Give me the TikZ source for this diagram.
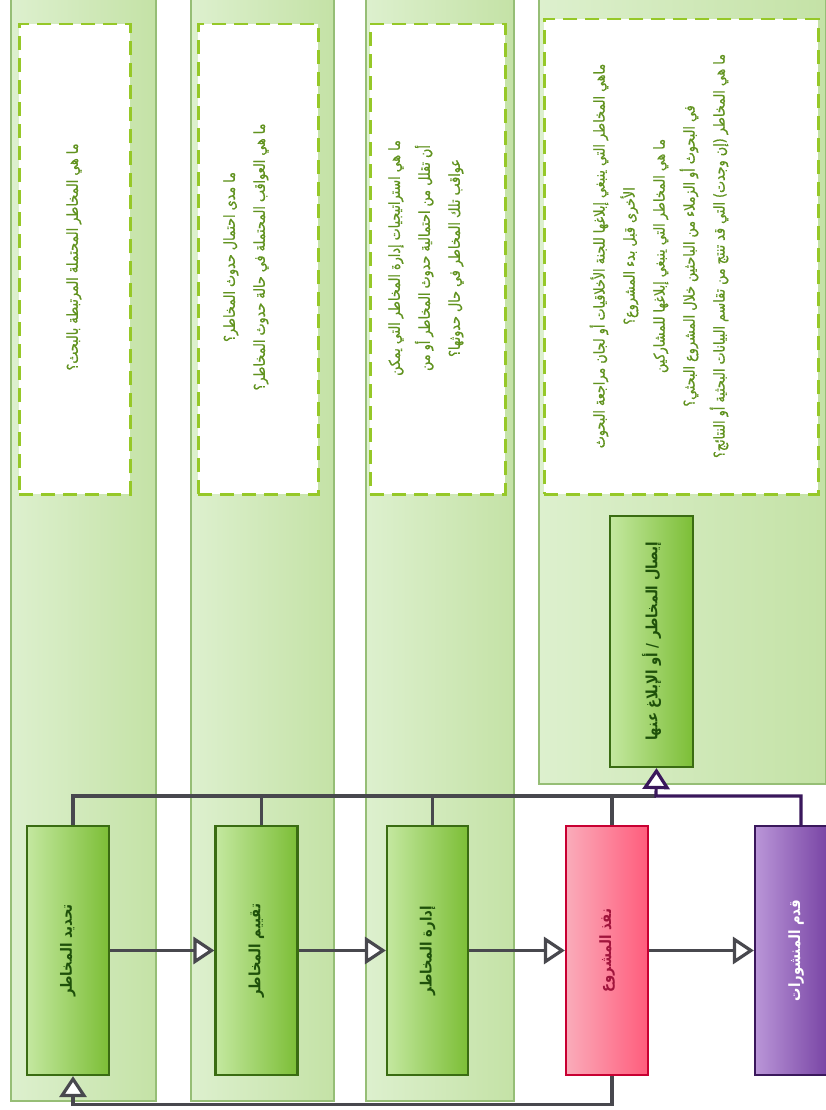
\documentclass[tikz,border=0pt]{standalone}
\usepackage{fontspec}
\newfontfamily\arabicfont[Script=Arabic, FakeStretch=0.85]{DejaVu Sans}
\newfontfamily\notefont[Script=Arabic, FakeStretch=0.85, FakeBold=0.8]{DejaVu Sans}
\TeXXeTstate=1
\usetikzlibrary{arrows.meta}
\definecolor{laneL}{RGB}{221,240,206}
\definecolor{laneR}{RGB}{196,226,166}
\definecolor{laneline}{RGB}{150,190,118}
\definecolor{notedash}{RGB}{150,200,40}
\definecolor{notetext}{RGB}{96,146,30}
\definecolor{taskL}{RGB}{196,232,160}
\definecolor{taskR}{RGB}{124,190,54}
\definecolor{taskline}{RGB}{58,108,18}
\definecolor{tasktext}{RGB}{30,80,10}
\definecolor{execL}{RGB}{250,172,186}
\definecolor{execR}{RGB}{255,92,124}
\definecolor{execline}{RGB}{200,0,50}
\definecolor{exectext}{RGB}{160,20,60}
\definecolor{pubL}{RGB}{186,150,216}
\definecolor{pubR}{RGB}{112,58,158}
\definecolor{publine}{RGB}{58,24,92}
\definecolor{connline}{RGB}{72,72,78}
\tikzstyle{lane}=[rectangle, draw=laneline, line width=2pt, left color=laneL, right color=laneR, anchor=north west, inner sep=0pt]
\tikzstyle{note}=[rectangle, draw=notedash, fill=white, line width=2.5pt, dash pattern=on 14pt off 8pt, anchor=north west, inner sep=0pt]
\tikzstyle{task}=[rectangle, draw=taskline, line width=2.2pt, left color=taskL, right color=taskR, minimum width=82pt, minimum height=249pt, inner sep=0pt, text=tasktext, font=\arabicfont\bfseries\fontsize{15.5}{18}\selectfont]
\tikzstyle{annot}=[align=center, rotate=90, text=notetext, font=\notefont\fontsize{15}{30}\selectfont]
\tikzstyle{conn}=[draw=connline, line width=3.2pt]
\tikzstyle{flow}=[conn, -{Triangle[length=21pt, width=27pt, fill=white]}]
\newcommand{\artext}[1]{\beginR #1\endR}
\newcommand{\uptext}[1]{\rotatebox{90}{\artext{#1}}}

\begin{document}
\begin{tikzpicture}[x=1pt, y=-1pt]
	\useasboundingbox (0,0) rectangle (826,1110);
	\fill[white] (0,0) rectangle (826,1110);
	\clip (0,0) rectangle (826,1110);

	\node[lane, minimum width=145pt, minimum height=1110pt] (lane1) at (10,-10){};
	\node[lane, minimum width=143pt, minimum height=1110pt] (lane2) at (190,-10){};
	\node[lane, minimum width=148pt, minimum height=1110pt] (lane3) at (365,-10){};
	\node[lane, minimum width=287pt, minimum height=793pt] (lane4) at (538,-10){};

	\node[note, minimum width=111pt, minimum height=470pt] (note1) at (18,23){};
	\node[note, minimum width=120pt, minimum height=470pt] (note2) at (197,23){};
	\node[note, minimum width=135pt, minimum height=470pt] (note3) at (369,23){};
	\node[note, minimum width=274pt, minimum height=475pt] (note4) at (543,18){};

	\node[annot] at (74,257) {\artext{ما هي المخاطر المحتملة المرتبطة بالبحث؟}};
	\node[annot] at (246,257) {\artext{ما مدى احتمال حدوث المخاطر؟}\\\artext{ما هي العواقب المحتملة في حالة حدوث المخاطر؟}};
	\node[annot] at (426,258) {\artext{ما هي استراتيجيات إدارة المخاطر التي يمكن}\\\artext{أن تقلل من احتمالية حدوث المخاطر أو من}\\\artext{عواقب تلك المخاطر في حال حدوثها؟}};
	\node[annot] at (659,256) {\artext{ماهي المخاطر التي ينبغي إبلاغها للجنة الأخلاقيات أو لجان مراجعة البحوث}\\\artext{الأخرى قبل بدء المشروع؟}\\\artext{ما هي المخاطر التي ينبغي إبلاغها للمشاركين}\\\artext{في البحوث أو الزملاء من الباحثين خلال المشروع البحثي؟}\\\artext{ما هي المخاطر (إن وجدت) التي قد تنتج من تقاسم البيانات البحثية أو النتائج؟}};

	\node[task] (ident) at (68,950.5) {\uptext{تحديد المخاطر}};
	\node[task] (assess) at (256.5,950.5) {\uptext{تقييم المخاطر}};
	\node[task, minimum width=81pt] (manage) at (427.5,950.5) {\uptext{إدارة المخاطر}};
	\node[task, draw=execline, left color=execL, right color=execR, text=exectext] (exec) at (607,950.5) {\uptext{نفذ المشروع}};
	\node[task, draw=publine, left color=pubL, right color=pubR, text=white] (publish) at (796,950.5) {\uptext{قدم المنشورات}};
	\node[task, minimum width=83pt, minimum height=251pt] (report) at (651.5,641.5) {\uptext{إيصال المخاطر / أو الإبلاغ عنها}};

	\coordinate (hub) at (656,796);
	\foreach \n in {ident,assess,manage,exec}
		\draw[conn] ([xshift=5pt]\n.north) |- (hub);
	\draw[flow, draw=publine] ([xshift=5pt]publish.north) |- (hub) -- ([xshift=5pt]report.south);

	\draw[flow] (ident.east) -- (assess.west);
	\draw[flow] (assess.east) -- (manage.west);
	\draw[flow] (manage.east) -- (exec.west);
	\draw[flow] (exec.east) -- (publish.west);
	\draw[flow] ([xshift=5pt]exec.south) -- ++(0,28) -| ([xshift=5pt]ident.south);

\end{tikzpicture}
\end{document}
